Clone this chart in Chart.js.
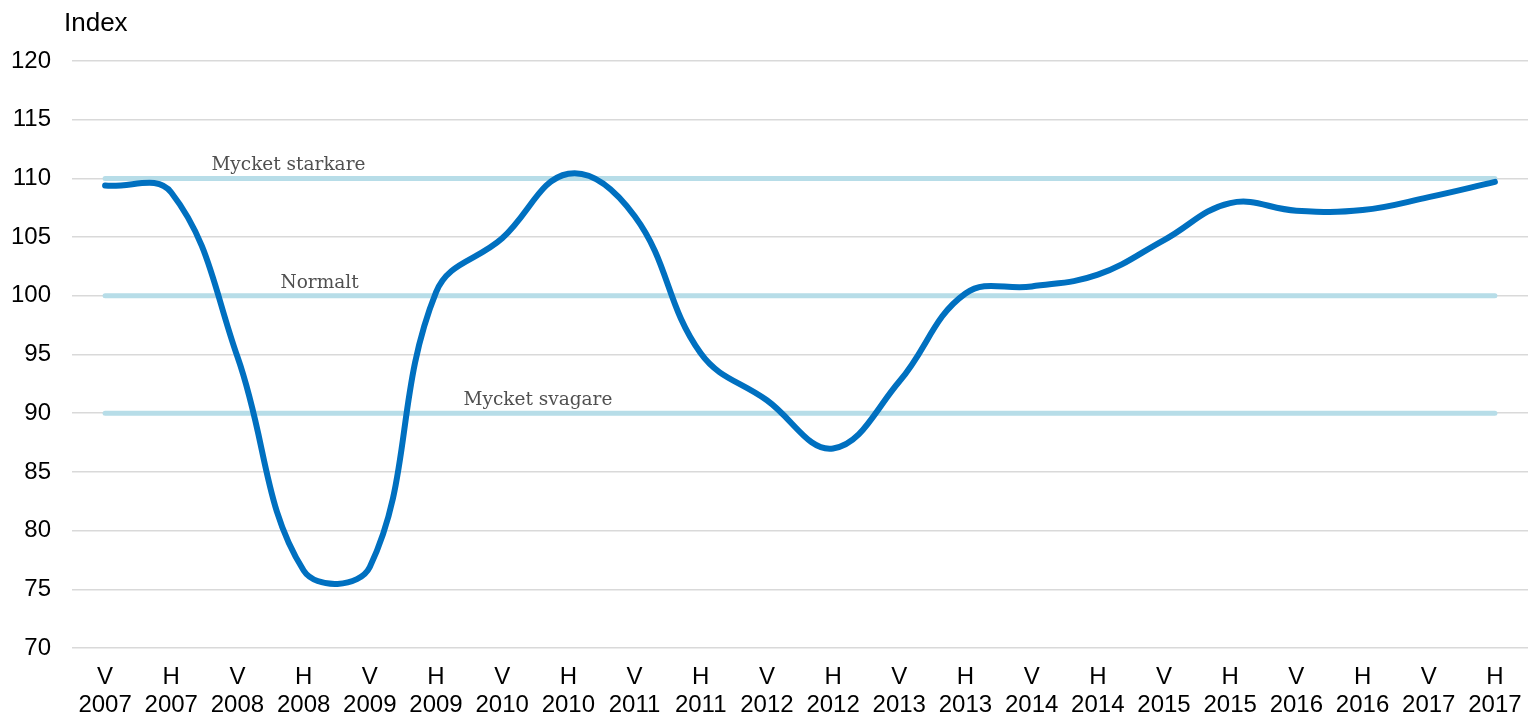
<!DOCTYPE html>
<html>
<head>
<meta charset="utf-8">
<script src="https://cdn.jsdelivr.net/npm/chart.js@4/dist/chart.umd.min.js"></script>
<style>
  html, body { margin: 0; padding: 0; background: #fff; }
  #wrap { width: 1528px; height: 716px; position: relative; }
</style>
</head>
<body>
<div id="wrap"><canvas id="indexChart"></canvas></div>
<script>
// Halvår: V = vår, H = höst
const halves = ['V', 'H'];
const years = [2007, 2008, 2009, 2010, 2011, 2012, 2013, 2014, 2015, 2016, 2017];
const indexValues = [109.4, 108.8, 94.8, 76.6, 76.9, 100.3, 104.9, 110.4, 106.8, 95.1, 91.1,
                     87.0, 92.7, 100.2, 100.8, 101.8, 104.75, 107.9, 107.25, 107.3, 108.4, 109.7];
const refNames = ['Mycket starkare', 'Normalt', 'Mycket svagare'];
const refValues = [110, 100, 90];
const yTicks = [70, 75, 80, 85, 90, 95, 100, 105, 110, 115, 120];

const labels = [];
years.forEach(y => halves.forEach(h => labels.push([h, String(y)])));

// referenslinjer som egna dataset
const refDatasets = refValues.map((v, i) => ({
    label: refNames[i],
    data: labels.map(() => v),
    borderColor: '#b7dde8',
    borderWidth: 5,
    borderCapStyle: 'round',
    pointRadius: 0,
    tension: 0
}));

// etiketter ovanför referenslinjerna (position i kategori-index)
const refLabelPos = [2.77, 3.24, 6.54];
const refLabelPlugin = {
    id: 'refLabels',
    afterDatasetsDraw(chart) {
        const { ctx, scales: { x, y } } = chart;
        ctx.save();
        ctx.font = '18.5px "DejaVu Serif", serif';
        ctx.fillStyle = '#505050';
        ctx.textAlign = 'center';
        ctx.textBaseline = 'alphabetic';
        refNames.forEach((name, i) => {
            ctx.fillText(name, x.getPixelForValue(refLabelPos[i]), y.getPixelForValue(refValues[i]) - 8);
        });
        ctx.restore();
    }
};

const axisTitlePlugin = {
    id: 'axisTitle',
    afterDraw(chart) {
        const ctx = chart.ctx;
        ctx.save();
        ctx.font = '26px "Liberation Sans", Arial, sans-serif';
        ctx.fillStyle = '#000';
        ctx.textAlign = 'left';
        ctx.textBaseline = 'alphabetic';
        ctx.fillText('Index', 64, 31);
        ctx.restore();
    }
};

const ctx = document.getElementById('indexChart').getContext('2d');
new Chart(ctx, {
    type: 'line',
    data: {
        labels: labels,
        datasets: [{
            label: 'Index',
            data: indexValues,
            borderColor: '#0070c0',
            borderWidth: 6,
            borderCapStyle: 'round',
            pointRadius: 0,
            tension: 0.4
        }, ...refDatasets]
    },
    options: {
        responsive: true,
        maintainAspectRatio: false,
        animation: false,
        layout: {
            padding: { top: 61, left: 0, right: 0, bottom: 0 }
        },
        plugins: {
            legend: { display: false },
            tooltip: { enabled: false }
        },
        scales: {
            x: {
                offset: true,
                grid: { display: false, drawTicks: false },
                border: { display: false },
                afterFit: axis => { axis.paddingLeft = 0; axis.paddingRight = 0; axis.height = 68; },
                ticks: {
                    color: '#000',
                    padding: 15,
                    maxRotation: 0,
                    autoSkip: false,
                    font: { family: '"Liberation Sans", Arial, sans-serif', size: 24, lineHeight: 1.17 }
                }
            },
            y: {
                min: 70,
                max: 120,
                afterBuildTicks: axis => { axis.ticks = yTicks.map(v => ({ value: v })); },
                afterFit: axis => { axis.width = 72; },
                grid: { color: '#d9d9d9', lineWidth: 1.5, drawTicks: false },
                border: { display: false },
                ticks: {
                    color: '#000',
                    padding: 21,
                    font: { family: '"Liberation Sans", Arial, sans-serif', size: 24 }
                }
            }
        }
    },
    plugins: [refLabelPlugin, axisTitlePlugin]
});
</script>
</body>
</html>
